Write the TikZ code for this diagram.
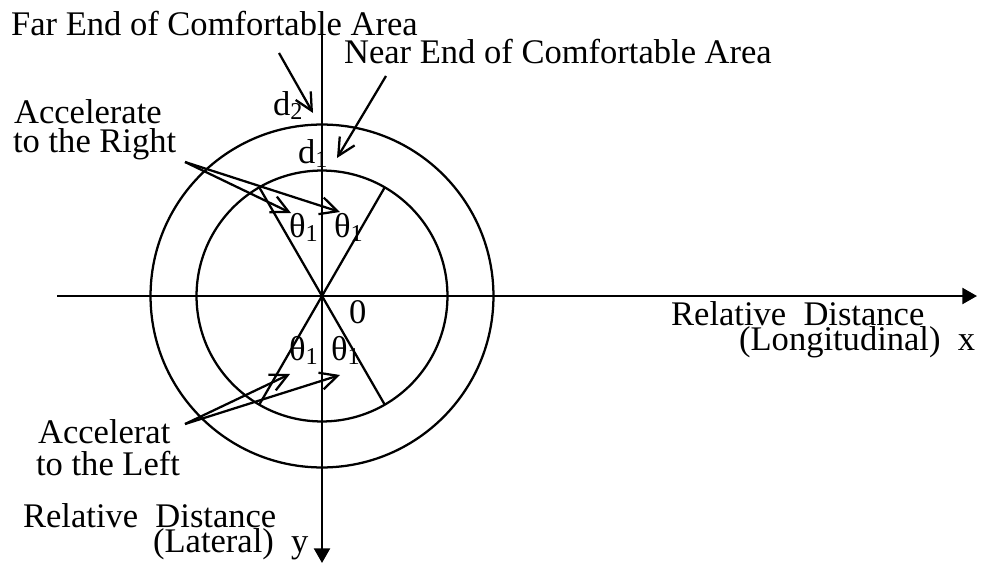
\documentclass[tikz,border=0pt]{standalone}
\usepackage{fontspec}
\setmainfont{Liberation Serif}
\usetikzlibrary{arrows.meta, positioning}

\begin{document}
\begin{tikzpicture}[x=0.75pt, y=-0.75pt, line width=1.7pt,
        lbl/.style={anchor=base west, inner sep=0pt, font=\fontsize{25.9}{30}\selectfont},
        ptr/.style={-{Straight Barb[length=13pt,width=13pt]}},
        axis/.style={-{Triangle[length=11pt,width=12pt]}}]
        \useasboundingbox (0,0) rectangle (982,564);

        \coordinate (O) at (322,296);
        \coordinate (xl) at (57,296);
        \coordinate (xr) at (977,296);
        \coordinate (yt) at (322,33);
        \coordinate (yb) at (322,563);

        % axes
        \draw[axis] (xl) -- (xr);
        \draw[axis] (yt) -- (yb);

        % comfortable area, d2 outside and d1 inside
        \draw (O) circle[radius=128.6pt];
        \draw (O) circle[radius=94.1pt];
        \draw (O) ++(120:94.1pt) -- ++(300:188.2pt);
        \draw (O) ++(60:94.1pt) -- ++(240:188.2pt);

        % labels
        \node[lbl] (far) at (10,35) {Far End of Comfortable Area};
        \node[lbl] (near) at (343,63) {Near End of Comfortable Area};
        \node[lbl] (d2) at (272,115) {d\textsubscript{2}};
        \node[lbl] (d1) at (297,163) {d\textsubscript{1}};
        \node[lbl] (accR) at (13,123) {Accelerate};
        \node[lbl] (accRb) at (12,152) {to the Right};
        \node[lbl] (accL) at (37,443) {Accelerat};
        \node[lbl] (accLb) at (35,475) {to the Left};
        \node[lbl] (th1) at (288,237) {θ\textsubscript{1}};
        \node[lbl] (th2) at (333,237) {θ\textsubscript{1}};
        \node[lbl] (th3) at (288,360) {θ\textsubscript{1}};
        \node[lbl] (th4) at (330,360) {θ\textsubscript{1}};
        \node[lbl] (zero) at (348,323) {0};
        \node[lbl] (lon) at (670,325) {Relative~~Distance};
        \node[lbl] (lonb) at (738,350) {(Longitudinal)~~x};
        \node[lbl] (lat) at (22,527) {Relative~~Distance};
        \node[lbl] (latb) at (152,552) {(Lateral)~~y};

        % pointers
        \coordinate (farA) at (279,53);
        \coordinate (farB) at (313,113);
        \coordinate (nearA) at (386,76);
        \coordinate (nearB) at (337,158);
        \coordinate (accRA) at (185,162);
        \coordinate (accR1) at (291,213);
        \coordinate (accR2) at (340,212);
        \coordinate (accLA) at (185,424);
        \coordinate (accL1) at (290,374);
        \coordinate (accL2) at (340,375);

        \draw[ptr] (farA) -- (farB);
        \draw[ptr] (nearA) -- (nearB);
        \draw[ptr] (accRA) -- (accR1);
        \draw[ptr] (accRA) -- (accR2);
        \draw[ptr] (accLA) -- (accL1);
        \draw[ptr] (accLA) -- (accL2);
\end{tikzpicture}
\end{document}
